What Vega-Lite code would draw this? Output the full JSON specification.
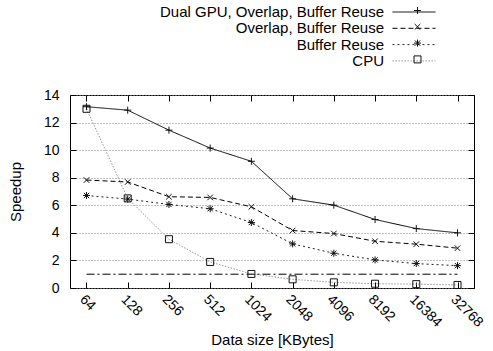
{
  "$schema": "https://vega.github.io/schema/vega-lite/v6.json",
  "width": 404,
  "height": 193,
  "autosize": {"type": "none"},
  "padding": {"left": 70, "top": 95, "right": 19, "bottom": 63},
  "background": "white",
  "config": {
    "font": "Liberation Sans",
    "view": {"stroke": "black", "strokeWidth": 1},
    "axis": {"labelColor": "black", "titleColor": "black", "tickColor": "black", "domain": false, "titleFontWeight": "normal"}
  },
  "datasets": {
    "main": [
      {"size": "64", "series": "Dual GPU, Overlap, Buffer Reuse", "k": "1", "speedup": 13.15},
      {"size": "128", "series": "Dual GPU, Overlap, Buffer Reuse", "k": "1", "speedup": 12.9},
      {"size": "256", "series": "Dual GPU, Overlap, Buffer Reuse", "k": "1", "speedup": 11.45},
      {"size": "512", "series": "Dual GPU, Overlap, Buffer Reuse", "k": "1", "speedup": 10.15},
      {"size": "1024", "series": "Dual GPU, Overlap, Buffer Reuse", "k": "1", "speedup": 9.19},
      {"size": "2048", "series": "Dual GPU, Overlap, Buffer Reuse", "k": "1", "speedup": 6.47},
      {"size": "4096", "series": "Dual GPU, Overlap, Buffer Reuse", "k": "1", "speedup": 6.01},
      {"size": "8192", "series": "Dual GPU, Overlap, Buffer Reuse", "k": "1", "speedup": 4.97},
      {"size": "16384", "series": "Dual GPU, Overlap, Buffer Reuse", "k": "1", "speedup": 4.31},
      {"size": "32768", "series": "Dual GPU, Overlap, Buffer Reuse", "k": "1", "speedup": 4.0},
      {"size": "64", "series": "Overlap, Buffer Reuse", "k": "2", "speedup": 7.83},
      {"size": "128", "series": "Overlap, Buffer Reuse", "k": "2", "speedup": 7.69},
      {"size": "256", "series": "Overlap, Buffer Reuse", "k": "2", "speedup": 6.62},
      {"size": "512", "series": "Overlap, Buffer Reuse", "k": "2", "speedup": 6.57},
      {"size": "1024", "series": "Overlap, Buffer Reuse", "k": "2", "speedup": 5.89},
      {"size": "2048", "series": "Overlap, Buffer Reuse", "k": "2", "speedup": 4.17},
      {"size": "4096", "series": "Overlap, Buffer Reuse", "k": "2", "speedup": 3.95},
      {"size": "8192", "series": "Overlap, Buffer Reuse", "k": "2", "speedup": 3.39},
      {"size": "16384", "series": "Overlap, Buffer Reuse", "k": "2", "speedup": 3.18},
      {"size": "32768", "series": "Overlap, Buffer Reuse", "k": "2", "speedup": 2.89},
      {"size": "64", "series": "Buffer Reuse", "k": "3", "speedup": 6.71},
      {"size": "128", "series": "Buffer Reuse", "k": "3", "speedup": 6.45},
      {"size": "256", "series": "Buffer Reuse", "k": "3", "speedup": 6.06},
      {"size": "512", "series": "Buffer Reuse", "k": "3", "speedup": 5.75},
      {"size": "1024", "series": "Buffer Reuse", "k": "3", "speedup": 4.75},
      {"size": "2048", "series": "Buffer Reuse", "k": "3", "speedup": 3.2},
      {"size": "4096", "series": "Buffer Reuse", "k": "3", "speedup": 2.52},
      {"size": "8192", "series": "Buffer Reuse", "k": "3", "speedup": 2.04},
      {"size": "16384", "series": "Buffer Reuse", "k": "3", "speedup": 1.77},
      {"size": "32768", "series": "Buffer Reuse", "k": "3", "speedup": 1.62},
      {"size": "64", "series": "CPU", "k": "4", "speedup": 13.0},
      {"size": "128", "series": "CPU", "k": "4", "speedup": 6.5},
      {"size": "256", "series": "CPU", "k": "4", "speedup": 3.54},
      {"size": "512", "series": "CPU", "k": "4", "speedup": 1.89},
      {"size": "1024", "series": "CPU", "k": "4", "speedup": 1.02},
      {"size": "2048", "series": "CPU", "k": "4", "speedup": 0.63},
      {"size": "4096", "series": "CPU", "k": "4", "speedup": 0.41},
      {"size": "8192", "series": "CPU", "k": "4", "speedup": 0.31},
      {"size": "16384", "series": "CPU", "k": "4", "speedup": 0.28},
      {"size": "32768", "series": "CPU", "k": "4", "speedup": 0.22}
    ],
    "ref": [
      {"size": "64", "speedup": 1},
      {"size": "32768", "speedup": 1}
    ]
  },
  "layer": [
    {
      "data": {"name": "main"},
      "mark": {"type": "line", "strokeWidth": 1},
      "encoding": {
        "x": {
          "field": "size", "type": "ordinal",
          "scale": {"type": "point", "domain": ["64", "128", "256", "512", "1024", "2048", "4096", "8192", "16384", "32768"], "padding": 0.4},
          "axis": {"title": "Data size [KBytes]", "labelAngle": 45, "labelFontSize": 14, "titleFontSize": 15, "tickSize": -6, "labelPadding": 10, "titlePadding": 3}
        },
        "y": {
          "field": "speedup", "type": "quantitative",
          "scale": {"domain": [0, 14], "nice": false},
          "axis": {"title": "Speedup", "values": [0, 2, 4, 6, 8, 10, 12, 14], "labelFontSize": 14, "titleFontSize": 15, "tickSize": -6, "labelPadding": 17, "titlePadding": 20, "grid": true, "gridDash": [1, 2], "gridColor": "#888", "gridOpacity": 1}
        },
        "color": {
          "field": "series", "type": "nominal",
          "scale": {"domain": ["Dual GPU, Overlap, Buffer Reuse", "Overlap, Buffer Reuse", "Buffer Reuse", "CPU"], "range": ["#000000", "#000000", "#222222", "#999999"]},
          "legend": {"title": null, "orient": "none", "legendX": 336, "legendY": -91, "symbolType": "M-2.87,0L2.87,0", "symbolSize": 225, "symbolStrokeWidth": 1, "labelAlign": "right", "labelOffset": -38, "labelFontSize": 15, "labelColor": "black", "labelLimit": 400, "rowPadding": 0.3}
        },
        "strokeDash": {
          "field": "series", "type": "nominal",
          "scale": {"domain": ["Dual GPU, Overlap, Buffer Reuse", "Overlap, Buffer Reuse", "Buffer Reuse", "CPU"], "range": [[1, 0], [5, 3], [2, 3], [1.5, 1.5]]},
          "legend": {"title": null, "orient": "none", "legendX": 336, "legendY": -91, "symbolType": "M-2.87,0L2.87,0", "symbolSize": 225, "symbolStrokeWidth": 1, "labelAlign": "right", "labelOffset": -38, "labelFontSize": 15, "labelColor": "black", "labelLimit": 400, "rowPadding": 0.3}
        }
      }
    },
    {
      "data": {"name": "ref"},
      "mark": {"type": "line", "strokeWidth": 1, "color": "black", "strokeDash": [8, 3, 2, 3]},
      "encoding": {
        "x": {"field": "size", "type": "ordinal", "axis": null},
        "y": {"field": "speedup", "type": "quantitative", "axis": null}
      }
    },
    {
      "data": {"name": "main"},
      "mark": {"type": "point", "filled": false, "stroke": "#111111", "strokeWidth": 1, "size": 49, "opacity": 1},
      "encoding": {
        "x": {"field": "size", "type": "ordinal", "axis": null},
        "y": {"field": "speedup", "type": "quantitative", "axis": null},
        "shape": {
          "field": "k", "type": "nominal",
          "scale": {"domain": ["1", "2", "3", "4"], "range": ["M-1,0L1,0M0,-1L0,1", "M-0.8,-0.8L0.8,0.8M-0.8,0.8L0.8,-0.8", "M-1,0L1,0M0,-1L0,1M-0.75,-0.75L0.75,0.75M-0.75,0.75L0.75,-0.75", "square"]},
          "legend": {"title": null, "orient": "none", "legendX": 340, "legendY": -92, "symbolSize": 49, "symbolStrokeColor": "#111111", "symbolStrokeWidth": 1, "labelOpacity": 0, "labelFontSize": 15, "clipHeight": 15, "rowPadding": 0.3}
        }
      }
    },
    {
      "data": {"name": "main"},
      "mark": {"type": "line", "opacity": 0},
      "encoding": {
        "x": {"field": "size", "type": "ordinal", "axis": {"orient": "top", "labels": false, "title": null, "tickSize": -6}},
        "y": {"field": "speedup", "type": "quantitative", "axis": {"orient": "right", "labels": false, "title": null, "tickSize": -6, "values": [0, 2, 4, 6, 8, 10, 12, 14], "grid": false}},
        "detail": {"field": "k"}
      }
    }
  ],
  "resolve": {"axis": {"x": "independent", "y": "independent"}}
}
